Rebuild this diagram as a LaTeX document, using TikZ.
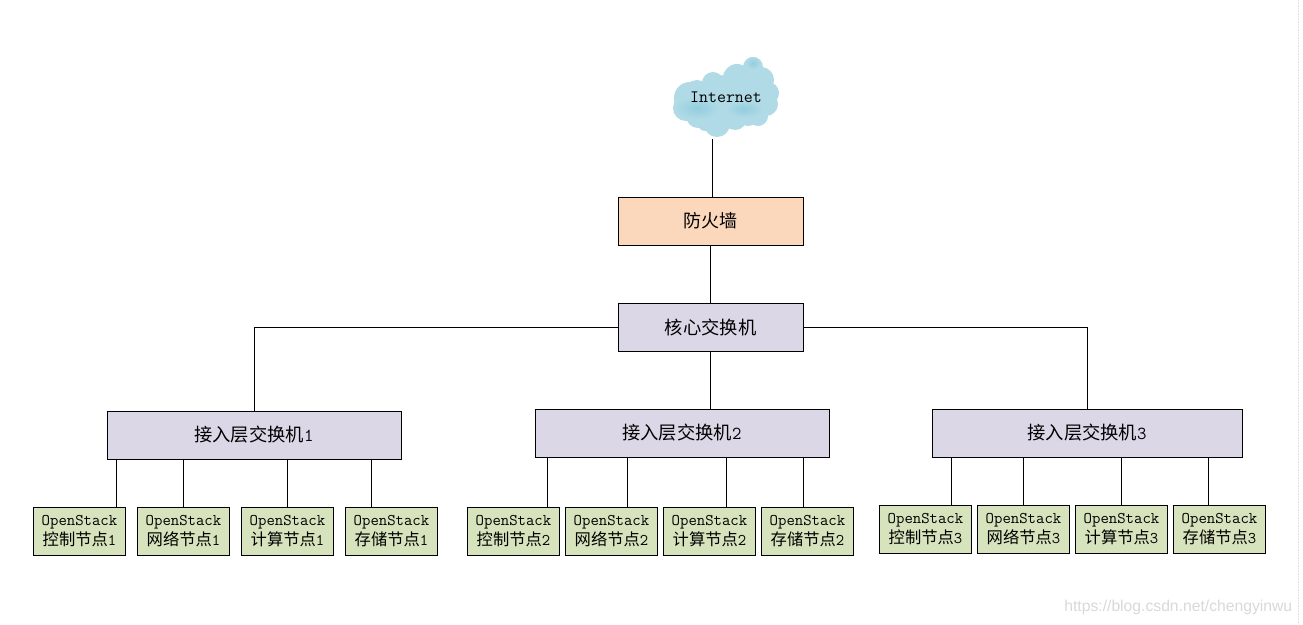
\documentclass[tikz,border=0pt]{standalone}
\usepackage{fontspec}
\usetikzlibrary{calc,positioning}
\newfontfamily\cjk{Noto Sans CJK SC}
\newfontfamily\wmfont{Liberation Sans}
\definecolor{wallcolor}{HTML}{FBD7BC}
\definecolor{switchcolor}{HTML}{DCD7E6}
\definecolor{hostcolor}{HTML}{D7E3BC}
\definecolor{cloudcolor}{HTML}{AFDAE6}
\definecolor{clouddark}{HTML}{93CDDF}
\begin{document}
\begin{tikzpicture}
	[x=1pt,y=-1pt,line width=1pt,
	box/.style={shape=rectangle,draw,inner sep=0pt,outer sep=0pt,align=center},
	wallbox/.style={box,fill=wallcolor,minimum width=185pt,minimum height=48pt,font=\fontsize{18}{20}\selectfont\ttfamily},
	switchbox/.style={box,fill=switchcolor,minimum height=48pt,font=\fontsize{18.3}{20}\selectfont\ttfamily},
	hostbox/.style={box,fill=hostcolor,minimum width=92.8pt,minimum height=48pt,font=\fontsize{16.3}{20}\selectfont\ttfamily}]
	\useasboundingbox (0,0) rectangle (1303,624);
	\fill[white] (0,0) rectangle (1303,624);
	\draw[gray!25,line width=.6pt,densely dotted] (1298,0) -- (1298,624);
	% cloud
	\foreach \cx/\cy/\cr in {690/98/16,686/108/13,698/116/12,705/124/7,717/124/13,735/118/12,748/116/10,758/116/10,766/104/12,768/93/11,761/80/13,753/67/10,737/78/14,713/83/11,697/93/13,725/100/25,745/95/22}
		\fill[cloudcolor] (\cx,\cy) circle (\cr);
	\shade[inner color=clouddark,outer color=cloudcolor] (697,108) ellipse (22 and 11);
	\shade[inner color=clouddark,outer color=cloudcolor] (744,109) ellipse (18 and 8);
	\shade[inner color=clouddark,outer color=cloudcolor] (753,63) ellipse (7 and 6);
	\node[font=\fontsize{17.4}{19}\selectfont\ttfamily] (inet) at (726,97) {Internet};
	\coordinate (inetfoot) at (712.5,139);
	\node[wallbox] (wall) at (710.7,221) {{\cjk 防火墙}};
	\node[switchbox,minimum width=185pt] (core) at (710.7,327) {{\cjk 核心交换机}};
	\node[switchbox,minimum width=294pt] (acc1) at (254,435) {{\cjk 接入层交换机}1};
	\node[switchbox,minimum width=294pt] (acc2) at (682,433) {{\cjk 接入层交换机}2};
	\node[switchbox,minimum width=310pt] (acc3) at (1087,433) {{\cjk 接入层交换机}3};
	\draw (inetfoot) -- (inetfoot |- wall.north);
	\draw (710.5,0 |- wall.south) -- (710.5,0 |- core.north);
	\draw (core.west) -| (acc1.north);
	\draw (core.east) -| (acc3.north);
	\draw (710.5,0 |- core.south) -- (710.5,0 |- acc2.north);
	% hosts
	\foreach \hname/\hx/\hline/\htext in {ctla/79.5/116/控制节点,neta/183.5/183/网络节点,cpua/287.5/287/计算节点,stoa/391.5/371/存储节点}{
		\node[hostbox] (\hname) at (\hx,531) {OpenStack\\{\cjk \htext}1};
		\draw (\hline,0 |- acc1.south) -- (\hline,0 |- \hname.north);
	}
	\foreach \hname/\hx/\hline/\htext in {ctlb/513.5/547/控制节点,netb/611.5/627/网络节点,cpub/709.5/726/计算节点,stob/807.5/803/存储节点}{
		\node[hostbox] (\hname) at (\hx,531) {OpenStack\\{\cjk \htext}2};
		\draw (\hline,0 |- acc2.south) -- (\hline,0 |- \hname.north);
	}
	\foreach \hname/\hx/\hline/\htext in {ctlc/925.5/951/控制节点,netc/1023.5/1023/网络节点,cpuc/1121.5/1121/计算节点,stoc/1219.5/1208/存储节点}{
		\node[hostbox] (\hname) at (\hx,529) {OpenStack\\{\cjk \htext}3};
		\draw (\hline,0 |- acc3.south) -- (\hline,0 |- \hname.north);
	}
	\node[text=gray!30,font=\fontsize{15.7}{18}\selectfont\wmfont,anchor=east] (mark) at (1296,607) {https://blog.csdn.net/chengyinwu};
\end{tikzpicture}
\end{document}
